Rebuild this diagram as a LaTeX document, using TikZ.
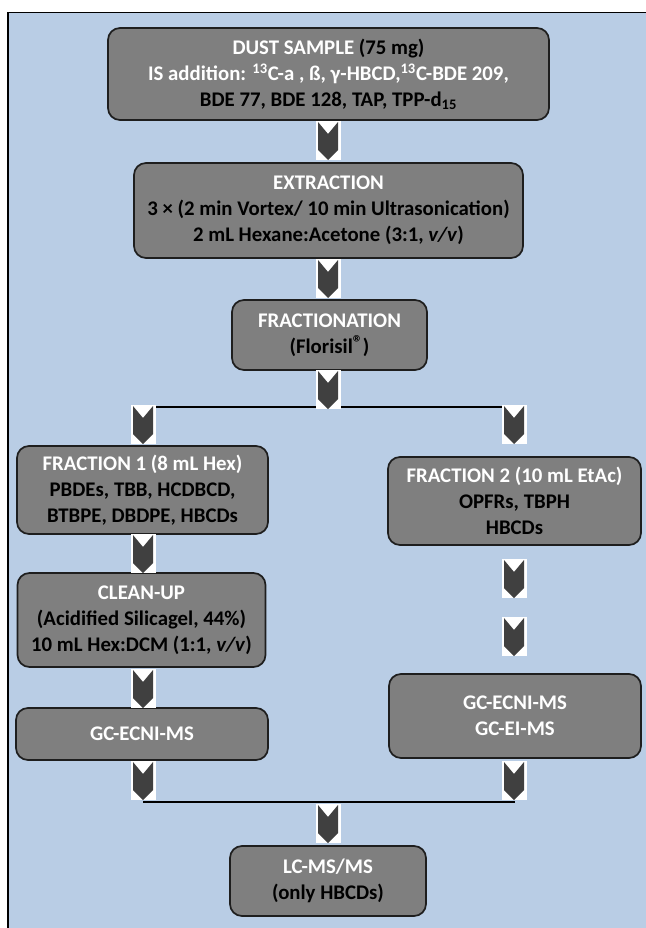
\documentclass[tikz,border=0pt]{standalone}
\usepackage{fontspec}
\setmainfont{Carlito}
\definecolor{bgblue}{HTML}{B9CDE5}
\definecolor{boxgrey}{HTML}{7F7F7F}
\definecolor{boxline}{HTML}{1E1E1E}
\definecolor{chevgrey}{HTML}{404040}
\newcommand{\wt}[1]{\textcolor{white}{#1}}
\begin{document}
\begin{tikzpicture}[x=0.75pt,y=-0.75pt,
  stepbox/.style={draw=boxline, line width=1.3pt, fill=boxgrey, rounded corners=9pt,
    align=center, inner sep=0pt, font=\fontsize{15.6}{19.6}\selectfont\bfseries},
  joinline/.style={draw=black, line width=1.2pt},
  chev/.pic={
    \fill[white] (-12.5,0) rectangle (12.5,39);
    \fill[chevgrey] (-10,1) -- (0,13) -- (10,1) -- (10,29) -- (0,39) -- (-10,29) -- cycle;
  }]
\useasboundingbox (0,0) rectangle (646,928);
\fill[white] (0,0) rectangle (646,928);
\draw[fill=bgblue, draw=black, line width=1.3pt] (8,12.5) rectangle (660,945);

% boxes
\node[stepbox, minimum width=330.75pt, minimum height=69pt] (dust) at (328.5,74)
  {\wt{DUST SAMPLE} (75 mg)\\
   \wt{IS addition: \textsuperscript{13}C-a , ß, γ-HBCD,\textsuperscript{13}C-BDE 209,}\\
   BDE 77, BDE 128, TAP, TPP-d\textsubscript{15}};
\node[stepbox, minimum width=291.75pt, minimum height=71.25pt] (extr) at (328.5,210.5)
  {\wt{EXTRACTION}\\
   3 × (2 min Vortex/ 10 min Ultrasonication)\\
   2 mL Hexane:Acetone (3:1, \textit{v/v})};
\node[stepbox, minimum width=146.25pt, minimum height=52.5pt] (frac) at (329.5,335)
  {\wt{FRACTIONATION}\\(Florisil\raisebox{0.35ex}{\fontsize{15}{15}\selectfont ®})};
\node[stepbox, minimum width=188.25pt, minimum height=66pt] (fa) at (142.5,490)
  {\wt{FRACTION 1 (8 mL Hex)}\\PBDEs, TBB, HCDBCD,\\BTBPE, DBDPE, HBCDs};
\node[stepbox, minimum width=189.75pt, minimum height=66pt] (fb) at (514.5,501)
  {\wt{FRACTION 2 (10 mL EtAc)}\\OPFRs, TBPH\\HBCDs};
\node[stepbox, minimum width=186pt, minimum height=70.5pt] (clean) at (141.5,620)
  {\wt{CLEAN-UP}\\(Acidified Silicagel, 44\%)\\10 mL Hex:DCM (1:1, \textit{v/v})};
\node[stepbox, minimum width=189pt, minimum height=39pt] (gcl) at (142,734)
  {\wt{GC-ECNI-MS}};
\node[stepbox, minimum width=189pt, minimum height=63pt] (gcr) at (515,716)
  {\wt{GC-ECNI-MS}\\\wt{GC-EI-MS}};
\node[stepbox, minimum width=147pt, minimum height=52.5pt] (lc) at (328,881)
  {\wt{LC-MS/MS}\\(only HBCDs)};

% join points
\coordinate (splitL) at (143,407);
\coordinate (splitR) at (514,407);
\coordinate (mergeL) at (143,802);
\coordinate (mergeR) at (515,802);
\draw[joinline] (splitL) -- (splitR);
\draw[joinline] (mergeL) -- (mergeR);

% chevron arrows
\pic at (328,121) {chev};
\pic at (328,259) {chev};
\pic at (328,370) {chev};
\pic at (143,405) {chev};
\pic at (514,405) {chev};
\pic at (143,534) {chev};
\pic at (514,559) {chev};
\pic at (514,617) {chev};
\pic at (143,669) {chev};
\pic at (143,761) {chev};
\pic at (514,761) {chev};
\pic at (328,804) {chev};
\end{tikzpicture}
\end{document}
